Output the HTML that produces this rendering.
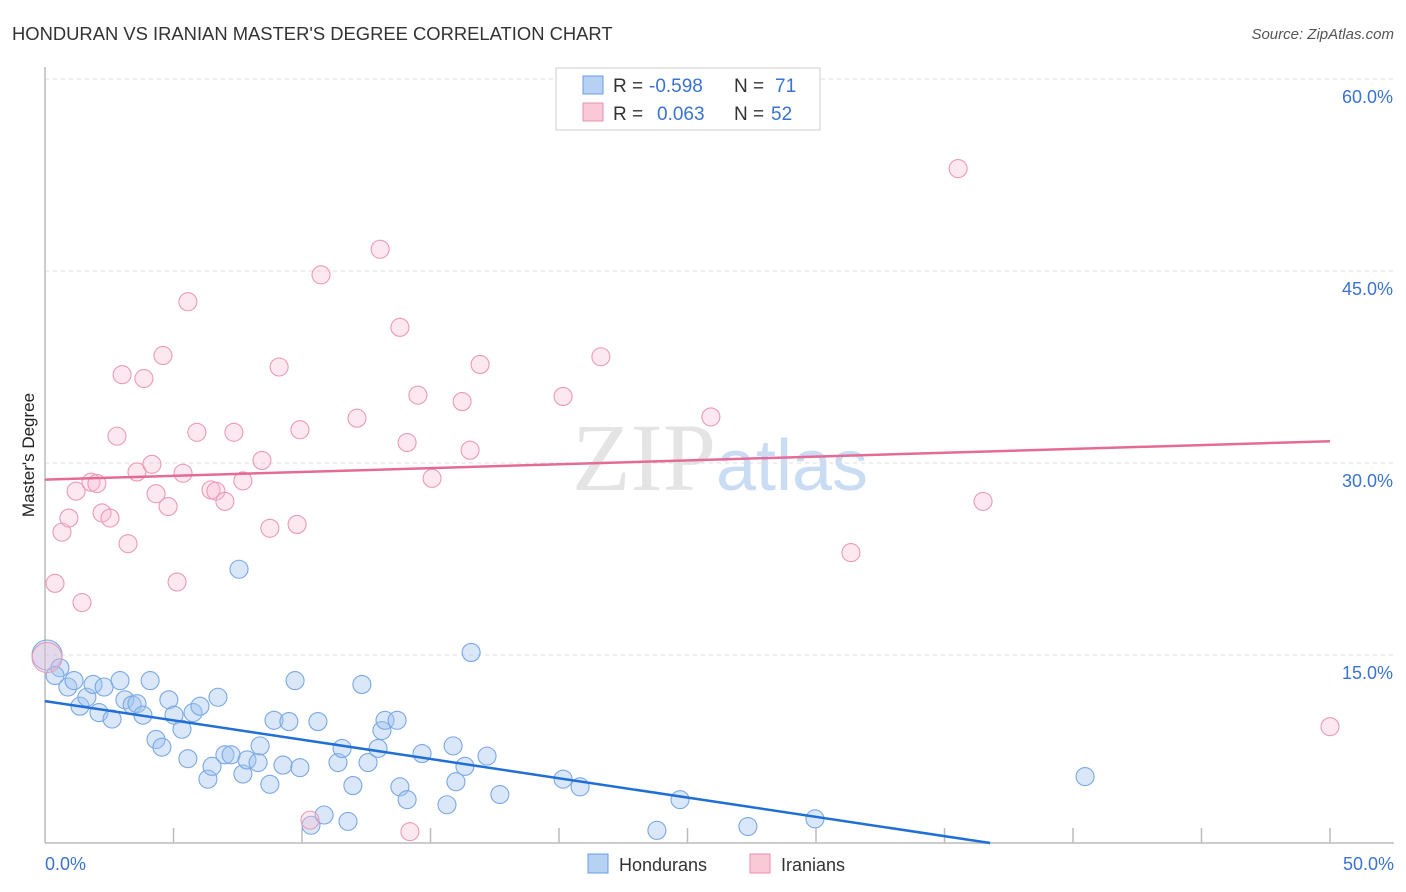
<!DOCTYPE html>
<html><head><meta charset="utf-8"><style>
body{margin:0;background:#fff;font-family:"Liberation Sans",sans-serif;}
svg{display:block}
</style></head><body>
<svg id="c" width="1406" height="892">
<text x="12" y="40" font-size="18.4" fill="#333">HONDURAN VS IRANIAN MASTER'S DEGREE CORRELATION CHART</text>
<text x="1394" y="39" font-size="15" fill="#555" text-anchor="end" font-style="italic">Source: ZipAtlas.com</text>
<text x="720" y="490" font-size="96" fill="#e4e4e4" text-anchor="middle" font-family="Liberation Serif">ZIP<tspan fill="#c9dcf3" font-family="Liberation Sans" font-size="72">atlas</tspan></text>
<text transform="translate(34,455) rotate(-90)" font-size="17" fill="#222" text-anchor="middle">Master's Degree</text>
<g id="grid"></g><g id="marks"></g>
<g font-size="19">
<rect x="556" y="68" width="264" height="62" fill="#fff" stroke="#ccc"/>
<rect x="583" y="76" width="20" height="18" fill="#b7d1f3" stroke="#6a9de0"/>
<text x="613" y="92" fill="#333">R =</text><text x="649" y="92" fill="#3a73cf">-0.598</text>
<text x="734" y="92" fill="#333">N =</text><text x="775" y="92" fill="#3a73cf">71</text>
<rect x="583" y="103" width="20" height="18" fill="#f9c9d8" stroke="#e891ad"/>
<text x="613" y="120" fill="#333">R =</text><text x="657" y="120" fill="#3a73cf">0.063</text>
<text x="734" y="120" fill="#333">N =</text><text x="771" y="120" fill="#3a73cf">52</text>
</g>
<g>
<rect x="588" y="854" width="20" height="19" fill="#b7d1f3" stroke="#6a9de0"/>
<text x="619" y="871" font-size="18" fill="#333">Hondurans</text>
<rect x="750" y="854" width="20" height="19" fill="#f9c9d8" stroke="#e891ad"/>
<text x="781" y="871" font-size="18" fill="#333">Iranians</text>
</g>
</svg>
<script>
const yTicks=[15,30,45,60];
const xTickLabels=["0.0%","50.0%"];
const blueX=[0.08,0.58,0.39,0.89,1.13,1.36,1.63,1.87,2.10,2.30,2.61,2.92,3.11,3.39,3.58,3.81,4.09,4.32,4.55,4.82,5.02,5.33,5.56,5.76,6.03,6.34,6.50,6.73,7.00,7.24,7.55,7.70,7.86,8.29,8.37,8.75,8.91,9.26,9.49,9.73,9.92,10.35,10.62,10.86,11.40,11.56,11.79,11.98,12.33,12.57,12.96,13.11,13.23,13.70,13.81,14.09,14.67,15.64,15.88,15.99,16.34,16.58,17.20,17.70,20.16,20.82,23.81,24.71,27.35,29.96,40.47];
const blueY=[15.0,14.0,13.4,12.5,13.0,11.0,11.7,12.7,10.5,12.5,10.0,13.0,11.5,11.1,11.2,10.3,13.0,8.4,7.8,11.5,10.3,9.2,6.9,10.5,11.0,5.3,6.3,11.7,7.2,7.2,21.7,5.7,6.8,6.6,7.9,4.9,9.9,6.4,9.8,13.0,6.2,1.7,9.8,2.5,6.6,7.7,2.0,4.8,12.7,6.6,7.7,9.1,9.9,9.9,4.7,3.7,7.3,3.3,7.9,5.1,6.3,15.2,7.1,4.1,5.3,4.7,1.3,3.7,1.6,2.2,5.5];
const pinkX=[0.08,0.39,0.66,0.93,1.21,1.44,1.79,2.02,2.22,2.53,2.80,3.00,3.23,3.58,3.85,4.16,4.32,4.59,4.79,5.14,5.37,5.56,5.91,6.46,6.65,7.00,7.35,7.70,8.44,8.75,9.11,9.81,9.92,10.31,10.74,12.14,13.04,13.81,14.09,14.20,14.51,15.06,16.23,16.54,16.93,20.16,21.63,25.91,31.36,35.53,36.50,50.0];
const pinkY=[14.8,20.6,24.6,25.7,27.8,19.1,28.5,28.4,26.1,25.7,32.1,36.9,23.7,29.3,36.6,29.9,27.6,38.4,26.6,20.7,29.2,42.6,32.4,27.9,27.8,27.0,32.4,28.6,30.2,24.9,37.5,25.2,32.6,2.1,44.7,33.5,46.7,40.6,31.6,1.2,35.3,28.8,34.8,31.0,37.7,35.2,38.3,33.6,23.0,53.0,27.0,9.4];
const blueTrend=[11.4,-4.1]; // y at x=0 and x=50
const pinkTrend=[28.7,31.7];
const X=v=>45+v*25.7, Y=v=>847-v*12.8;
const NS="http://www.w3.org/2000/svg";
function mk(t,a,p){const e=document.createElementNS(NS,t);for(const k in a)e.setAttribute(k,a[k]);p.appendChild(e);return e;}
const g=document.getElementById('grid'), m=document.getElementById('marks');
yTicks.forEach(t=>{
 const l=mk('line',{x1:45,x2:1394,y1:Y(t),y2:Y(t),stroke:'#ddd','stroke-dasharray':'4,4'},g);
 
 
 const tx=mk('text',{x:1393,y:Y(t)+24,'font-size':18,fill:'#3a73cf','text-anchor':'end'},g);
 tx.textContent=t.toFixed(1)+'%';
 
 
});
const ax=mk('line',{x1:45,x2:45,y1:67,y2:843,stroke:'#bbb','stroke-width':1.5},g);


const bx=mk('line',{x1:45,x2:1394,y1:843,y2:843,stroke:'#bbb','stroke-width':1.5},g);


for(let i=1;i<=10;i++){const t=mk('line',{x1:X(i*5),x2:X(i*5),y1:828,y2:843,stroke:'#bbb','stroke-width':1.5},g);
 
 }
[[0,'start',45],[50,'end',1394]].forEach((d,i)=>{const t=mk('text',{x:d[2],y:870,'font-size':18,fill:'#3a73cf','text-anchor':d[1]},g);t.textContent=xTickLabels[i];
 
 });
function pts(xs,ys,fill,stroke,name){xs.forEach((x,i)=>{const c=mk('circle',{cx:X(x),cy:Y(ys[i]),r:i===0?15:9,fill:fill,stroke:stroke,'stroke-width':1.1},m);
 
 });}
pts(blueX,blueY,'rgba(160,195,240,0.4)','#7aa8e4','honduran-point');
pts(pinkX,pinkY,'rgba(248,190,208,0.35)','#eb9ab5','iranian-point');
const bEnd=blueTrend[0]/(blueTrend[0]-blueTrend[1])*50;
const bl=mk('line',{x1:X(0),y1:Y(blueTrend[0]),x2:X(bEnd),y2:843,stroke:'#1f6fd6','stroke-width':2.5},m);


const pl=mk('line',{x1:X(0),y1:Y(pinkTrend[0]),x2:X(50),y2:Y(pinkTrend[1]),stroke:'#e56b97','stroke-width':2.5},m);


</script>
</body></html>
